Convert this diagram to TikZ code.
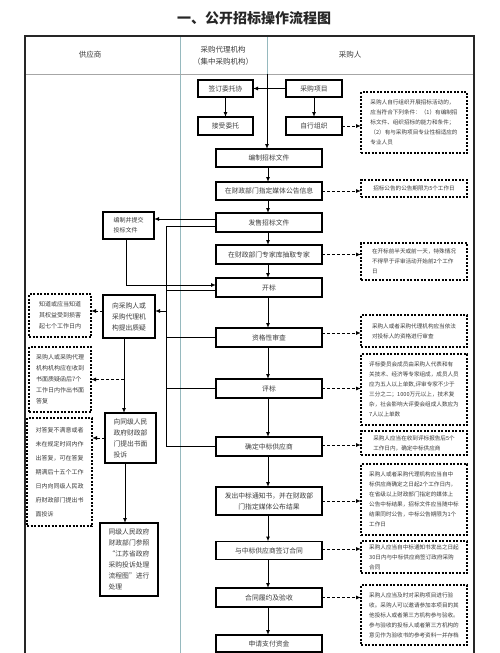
\documentclass[tikz,border=0pt]{standalone}
\usepackage{fontspec}
\setmainfont{Noto Sans CJK SC}
\usetikzlibrary{arrows.meta}
\definecolor{divc}{RGB}{150,185,190}
\definecolor{txt}{RGB}{60,60,60}
\begin{document}
\begin{tikzpicture}[x=1pt,y=-1pt,
  every node/.style={inner sep=0pt, outer sep=0pt, text=txt},
  mbox/.style={draw, line width=1.1pt, minimum width=106pt, minimum height=19pt, font=\fontsize{6.8}{9}\selectfont, align=center},
  sbox/.style={draw, line width=1.1pt, minimum width=56pt, minimum height=18pt, font=\fontsize{6.8}{9}\selectfont},
  note/.style={draw, line width=1.1pt, dash pattern=on 2pt off 1.5pt, minimum width=106pt, align=left, font=\fontsize{5.6}{10}\selectfont},
  lbox/.style={draw, line width=1.1pt, align=left, font=\fontsize{6.8}{11}\selectfont},
  lnote/.style={draw, line width=1.1pt, dash pattern=on 2pt off 1.5pt, align=left, font=\fontsize{6}{11}\selectfont},
  arr/.style={line width=1pt, -{Latex[length=5pt,width=4pt]}},
  darr/.style={arr, dash pattern=on 3pt off 2pt},
  ln/.style={line width=1pt},
  hdr/.style={font=\fontsize{7.5}{12}\selectfont, align=center}
]
\useasboundingbox (0,0) rectangle (500,653);
\fill[white] (0,0) rectangle (500,653);

% title
\node[font=\fontsize{14}{16}\selectfont\bfseries, text=black!85] (title) at (254,18) {一、公开招标操作流程图};

% table frame
\draw[divc, line width=0.8pt] (180,36) -- (180,653);
\draw[divc, line width=0.8pt] (267,36) -- (267,74);
\draw[gray!70, line width=1pt] (25,74) -- (474,74);
\draw[black!85, line width=1.2pt] (25,653) -- (25,36) -- (474,36) -- (474,653);

% headers
\node[hdr] (h1) at (90,55) {供应商};
\node[hdr] (h2) at (223,55.5) {采购代理机构\\（集中采购机构）};
\node[hdr] (h3) at (350,55) {采购人};

% top boxes
\node[sbox, minimum width=55pt, minimum height=17pt] (wt) at (225.5,88.5) {签订委托协};
\node[sbox, minimum height=17pt] (xm) at (314,88.5) {采购项目};
\node[sbox, minimum width=55pt] (js) at (225.5,126) {接受委托};
\node[sbox] (zz) at (314,126) {自行组织};

% main flow
\node[mbox, minimum height=18pt] (bz) at (269,158) {编制招标文件};
\node[mbox, minimum height=18pt] (gg) at (269,191) {在财政部门指定媒体公告信息};
\node[mbox] (fs) at (269,222.5) {发售招标文件};
\node[mbox] (cq) at (269,254.5) {在财政部门专家库抽取专家};
\node[mbox] (kb) at (269,287.5) {开标};
\node[mbox] (zg) at (269,337.5) {资格性审查};
\node[mbox] (pb) at (269,388.5) {评标};
\node[mbox] (qd) at (269,446.5) {确定中标供应商};
\node[mbox, minimum height=28pt, font=\fontsize{6.8}{11}\selectfont] (fc) at (269,501) {发出中标通知书，并在财政部\\门指定媒体公布结果};
\node[mbox, minimum height=18pt] (qy) at (269,550.5) {与中标供应商签订合同};
\node[mbox] (ly) at (269,597.5) {合同履约及验收};
\node[mbox, minimum height=17pt] (zf) at (269,643.5) {申请支付资金};

% notes (right)
\node[note, minimum height=61pt] (n1) at (414,122.5) {采购人自行组织开展招标活动的，\\应当符合下列条件：（1）有编制招\\标文件、组织招标的能力和条件；\\（2）有与采购项目专业性相适应的\\专业人员};
\node[note, minimum height=17pt] (n2) at (414,188.5) {招标公告的公告期限为5个工作日};
\node[note, minimum height=37pt] (n3) at (414,261.5) {在开标前半天或前一天，特殊情况\\不得早于评审活动开始前2个工作\\日};
\node[note, minimum height=32pt] (n4) at (414,331) {采购人或者采购代理机构应当依法\\对投标人的资格进行审查};
\node[note, minimum height=71pt] (n5) at (414,389.5) {评标委员会成员由采购人代表和有\\关技术、经济等专家组成，成员人员\\应为五人以上单数,评审专家不少于\\三分之二；1000万元以上，技术复\\杂，社会影响大评委会组成人数应为\\7人以上单数};
\node[note, minimum height=24pt] (n6) at (414,443) {采购人应当在收到评标报告后5个\\工作日内，确定中标供应商};
\node[note, minimum height=71pt] (n7) at (414,499.5) {采购人或者采购代理机构应当自中\\标供应商确定之日起2个工作日内，\\在省级以上财政部门指定的媒体上\\公告中标结果，招标文件应当随中标\\结果同时公告，中标公告期限为1个\\工作日};
\node[note, minimum height=32pt] (n8) at (414,557) {采购人应当自中标通知书发出之日起\\30日内与中标供应商签订政府采购\\合同};
\node[note, minimum height=60pt] (n9) at (414,615) {采购人应当及时对采购项目进行验\\收。采购人可以邀请参加本项目的其\\他投标人或者第三方机构参与验收。\\参与验收的投标人或者第三方机构的\\意见作为验收书的参考资料一并存档};

% left column
\node[lbox, minimum width=51pt, minimum height=27pt, font=\fontsize{6}{10}\selectfont] (tb) at (128.5,225.5) {编制并提交\\投标文件};
\node[lbox, minimum width=52pt, minimum height=43pt] (zy) at (129,316.5) {向采购人或\\采购代理机\\构提出质疑};
\node[lbox, minimum width=51pt, minimum height=50pt] (ts) at (130.5,438) {向同级人民\\政府财政部\\门提出书面\\投诉};
\node[lbox, minimum width=58pt, minimum height=73pt] (cl) at (129,559.5) {同级人民政府\\财政部门参照\\“江苏省政府\\采购投诉处理\\流程图”进行\\处理};
\node[lnote, minimum width=62pt, minimum height=43pt] (L1) at (60,315.5) {知道或应当知道\\其权益受到损害\\起七个工作日内};
\node[lnote, minimum width=62pt, minimum height=65pt] (L2) at (60,379.5) {采购人或采购代理\\机构机构应在收到\\书面质疑函后7个\\工作日内作出书面\\答复};
\node[lnote, minimum width=65pt, minimum height=108pt, font=\fontsize{6}{14}\selectfont] (L3) at (59.5,472) {对答复不满意或者\\未在规定时间内作\\出答复，可在答复\\期满后十五个工作\\日内向同级人民政\\府财政部门提出书\\面投诉};

% coordinates
\coordinate (hd) at (267,74);
\coordinate (bx) at (166,0);
\coordinate (vx) at (124,0);
\coordinate (vx2) at (125,0);
\coordinate (vx0) at (126,0);
\coordinate (fsA) at ([yshift=3.5pt]fs.west);
\coordinate (fsB) at ([yshift=-3.5pt]fs.west);
\coordinate (kbA) at ([yshift=2.5pt]kb.west);
\coordinate (kbB) at ([yshift=-2.5pt]kb.west);
\coordinate (zyA) at ([yshift=5.5pt]zy.east);

% top connectors
\draw[arr] (xm.west) -- (wt.east);
\draw[arr] (wt.south) -- (js.north);
\draw[arr] (xm.south) -- (zz.north);
\draw[arr] (hd) -- (hd |- bz.north);
\draw[darr] (zz.east) -- (zz.east -| n1.west);

% main chain
\foreach \a/\b in {bz/gg,gg/fs,fs/cq,cq/kb,kb/zg,zg/pb,pb/qd,qd/fc,fc/qy,qy/ly,ly/zf}
  \draw[arr] ([xshift=-1pt]\a.south) -- ([xshift=-1pt]\b.north);

% dashed notes
\draw[darr] (gg.east) -- (gg.east -| n2.west);
\draw[darr] (cq.east) -- (cq.east -| n3.west);
\draw[darr] ([yshift=4.5pt]zg.east) -- ([yshift=4.5pt]zg.east -| n4.west);
\draw[darr] (pb.east) -- (pb.east -| n5.west);
\draw[darr] ([yshift=1.5pt]qd.east) -- ([yshift=1.5pt]qd.east -| n6.west);
\draw[darr] (fc.east) -- (fc.east -| n7.west);
\draw[darr] ([yshift=1.5pt]qy.east) -- ([yshift=1.5pt]qy.east -| n8.west);
\draw[darr] (ly.east) -- (ly.east -| n9.west);

% left connectors
\draw[arr] (fsA) -- (fsA -| tb.east);
\draw[arr] (vx0 |- tb.south) |- (kbA);
\draw[ln] (fsB) -| (bx |- qd.west) -- (qd.west);
\draw[ln] (kbB) -- (kbB -| bx);
\draw[ln] (zg.west) -- (zg.west -| bx);
\draw[ln] (pb.west) -- (pb.west -| bx);
\draw[arr] (zyA -| bx) -- (zyA);
\draw[darr] (zyA -| zy.west) -- (zyA -| L1.east);
\draw[arr] (vx |- zy.south) -- (vx |- ts.north);
\draw[darr] (vx |- L2.east) -- (L2.east);
\draw[darr] (ts.west) -- (ts.west -| L3.east);
\draw[arr] (vx2 |- ts.south) -- (vx2 |- cl.north);
\end{tikzpicture}
\end{document}
